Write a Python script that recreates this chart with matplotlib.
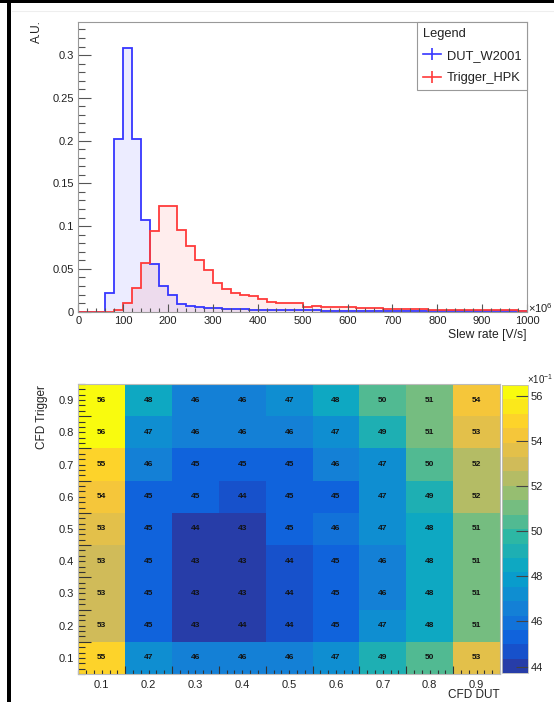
import numpy as np
import matplotlib
matplotlib.use('Agg')
import matplotlib.pyplot as plt
from matplotlib.colors import LinearSegmentedColormap, ListedColormap, BoundaryNorm
from matplotlib.lines import Line2D
from matplotlib.patches import Rectangle
from matplotlib.ticker import MultipleLocator, FixedLocator, FuncFormatter, NullFormatter

plt.rcParams['font.family'] = ['Liberation Sans', 'DejaVu Sans']
plt.rcParams['mathtext.fontset'] = 'custom'
plt.rcParams['mathtext.rm'] = 'Liberation Sans'
plt.rcParams['mathtext.it'] = 'Liberation Sans:italic'

# ---------------- data ----------------
bin_width = 20
x_max = 1000
dut_w2001 = [0, 0, 0, 0.022, 0.202, 0.308, 0.202, 0.107, 0.056, 0.030,
             0.020, 0.009, 0.007, 0.005, 0.0045, 0.004, 0.0035, 0.003, 0.003, 0.0025,
             0.002, 0.002, 0.002, 0.002, 0.0015, 0.0015, 0.0015, 0.001, 0.001, 0.001,
             0.001, 0.001, 0.001, 0.001, 0.0008, 0.0008, 0.0008, 0.0008, 0.0007, 0.0007,
             0.0007, 0.0006, 0.0006, 0.0006, 0.0006, 0.0005, 0.0005, 0.0005, 0.0005, 0.0005]
trigger_hpk = [0, 0, 0, 0, 0.002, 0.010, 0.028, 0.057, 0.094, 0.123,
               0.124, 0.096, 0.077, 0.060, 0.049, 0.033, 0.027, 0.022, 0.020, 0.018,
               0.015, 0.011, 0.010, 0.010, 0.010, 0.006, 0.007, 0.006, 0.005, 0.005,
               0.005, 0.004, 0.004, 0.004, 0.003, 0.003, 0.003, 0.003, 0.003, 0.002,
               0.002, 0.002, 0.002, 0.002, 0.002, 0.0015, 0.0015, 0.0015, 0.0015, 0.0012]
series_labels = ['DUT_W2001', 'Trigger_HPK']

cfd_dut = [0.1, 0.2, 0.3, 0.4, 0.5, 0.6, 0.7, 0.8, 0.9]
cfd_trigger = [0.1, 0.2, 0.3, 0.4, 0.5, 0.6, 0.7, 0.8, 0.9]
# rows: CFD Trigger 0.1 ... 0.9 ; columns: CFD DUT 0.1 ... 0.9
resolution = [
    [55.0, 47.4, 46.3, 46.3, 46.3, 47.2, 49.2, 50.3, 53.4],   # 0.1
    [53.1, 45.0, 43.4, 44.0, 44.4, 45.0, 47.0, 48.2, 51.3],   # 0.2
    [53.1, 45.0, 43.4, 43.3, 44.4, 45.0, 46.4, 48.2, 51.0],   # 0.3
    [53.1, 45.0, 43.4, 43.3, 44.4, 45.0, 46.4, 48.2, 51.0],   # 0.4
    [53.4, 45.3, 44.0, 43.4, 45.0, 46.0, 47.0, 48.3, 51.3],   # 0.5
    [54.2, 45.3, 45.0, 44.4, 45.1, 45.3, 47.2, 49.2, 52.2],   # 0.6
    [55.1, 46.4, 45.3, 45.3, 45.4, 46.3, 47.4, 50.3, 52.4],   # 0.7
    [56.2, 47.4, 46.3, 46.3, 46.4, 47.4, 49.2, 51.1, 53.4],   # 0.8
    [56.3, 48.3, 46.4, 46.4, 47.4, 48.2, 50.2, 51.2, 54.2],   # 0.9
]
z_min, z_max, n_levels = 43.7, 56.5, 20
cbar_ticks = [44, 46, 48, 50, 52, 54, 56]

# ---------------- figure ----------------
W, H = 554, 702
fig = plt.figure(figsize=(W / 100, H / 100), dpi=100)
fig.patch.set_facecolor('white')

def fx(px):
    return px / W

def fy(py):
    return 1 - py / H

def pt(px):
    return px * 0.72

txt = '#222222'

# frame decorations (screenshot border)
fig.add_artist(Rectangle((fx(7), 0), fx(4.5), 1, transform=fig.transFigure,
                         color='black', lw=0, zorder=10))
fig.add_artist(Rectangle((0, fy(2.5)), 1, 2.5 / H, transform=fig.transFigure,
                         color='black', lw=0, zorder=10))
fig.add_artist(Line2D([fx(12), 1], [fy(11), fy(11)], transform=fig.transFigure,
                      color='#eeeeee', lw=0.8))

# ---------------- histogram ----------------
ax1 = fig.add_axes([fx(78.3), fy(311.7), fx(527 - 78.3), (311.7 - 21.7) / H])
edges = np.arange(0, x_max + bin_width, bin_width)
blue, red = '#3636ff', '#ff3a3a'
ax1.stairs(dut_w2001, edges, fill=True, color=blue, alpha=0.09, lw=0)
ax1.stairs(trigger_hpk, edges, fill=True, color=red, alpha=0.09, lw=0)
ax1.stairs(dut_w2001, edges, color=blue, lw=1.3, baseline=0)
ax1.stairs(trigger_hpk, edges, color=red, lw=1.3, baseline=0)
ax1.set_xlim(0, x_max)
ax1.set_ylim(0, 0.339)
ax1.xaxis.set_major_locator(MultipleLocator(100))
ax1.xaxis.set_minor_locator(MultipleLocator(20))
ax1.yaxis.set_major_locator(MultipleLocator(0.05))
ax1.yaxis.set_minor_locator(MultipleLocator(0.01))
ax1.yaxis.set_major_formatter(FuncFormatter(lambda v, p: f'{v:g}'))
ax1.tick_params(axis='x', which='major', direction='in', length=pt(8), width=0.8,
                color='#555555', labelsize=8, labelcolor=txt, pad=3)
ax1.tick_params(axis='x', which='minor', direction='in', length=pt(4), width=0.8, color='#555555')
ax1.tick_params(axis='y', which='major', direction='in', length=pt(13), width=0.8,
                color='#555555', labelsize=8, labelcolor=txt, pad=3)
ax1.tick_params(axis='y', which='minor', direction='in', length=pt(6.5), width=0.8, color='#555555')
for s in ax1.spines.values():
    s.set_color('#999999')
    s.set_linewidth(0.8)

handles = [Line2D([], [], color=blue, lw=1.2, marker='|', markersize=8, markeredgewidth=1.2),
           Line2D([], [], color=red, lw=1.2, marker='|', markersize=8, markeredgewidth=1.2)]
leg = ax1.legend(handles, series_labels, title='Legend', loc='upper right',
                 bbox_to_anchor=(1, 1), borderaxespad=0, fancybox=False,
                 edgecolor='#999999', framealpha=1, fontsize=9.3, title_fontsize=9.3,
                 alignment='left', handlelength=1.45, handletextpad=0.4,
                 borderpad=0.45, labelspacing=0.8)
leg.get_frame().set_linewidth(0.8)
for t in leg.get_texts():
    t.set_color(txt)
leg.get_title().set_color(txt)

fig.text(fx(528), fy(308), r'$\times$10$^{6}$', ha='left', va='center', fontsize=8, color=txt)
fig.text(fx(527), fy(335), 'Slew rate [V/s]', ha='right', va='center', fontsize=8.7, color=txt)
fig.text(fx(37), fy(20), 'A.U.', rotation=90, ha='center', va='top', fontsize=8.6, color=txt)

# ---------------- heat map ----------------
bird_stops = [0.0, 0.125, 0.25, 0.375, 0.5, 0.625, 0.75, 0.875, 1.0]
bird_r = [0.2082, 0.0592, 0.0780, 0.0232, 0.1802, 0.5301, 0.8186, 0.9956, 0.9764]
bird_g = [0.1664, 0.3599, 0.5041, 0.6419, 0.7178, 0.7492, 0.7328, 0.7862, 0.9832]
bird_b = [0.5293, 0.8684, 0.8385, 0.7914, 0.6425, 0.4662, 0.3499, 0.1968, 0.0539]
bird = LinearSegmentedColormap.from_list(
    'bird', [(s, (r, g, b)) for s, r, g, b in zip(bird_stops, bird_r, bird_g, bird_b)])
band_pos = np.minimum((np.arange(n_levels) + 0.99) / n_levels, 1.0)
cmap = ListedColormap(bird(band_pos))
levels = np.linspace(z_min, z_max, n_levels + 1)
norm = BoundaryNorm(levels, cmap.N, clip=True)

ax2 = fig.add_axes([fx(78.3), fy(674), fx(500 - 78.3), (674 - 384) / H])
xc = np.array(cfd_dut)
yc = np.array(cfd_trigger)
dx = (xc[1] - xc[0]) / 2
dy = (yc[1] - yc[0]) / 2
xe = np.append(xc - dx, xc[-1] + dx)
ye = np.append(yc - dy, yc[-1] + dy)
Z = np.array(resolution)
mesh = ax2.pcolormesh(xe, ye, Z, cmap=cmap, norm=norm, shading='flat')
for i, yv in enumerate(yc):
    for j, xv in enumerate(xc):
        ax2.text(xv, yv, f'{Z[i, j]:.0f}', ha='center', va='center',
                 fontsize=6, fontweight='bold', color='#111111')
ax2.set_xlim(xe[0], xe[-1])
ax2.set_ylim(ye[0], ye[-1])

def center_label(v, p, centers):
    for c in centers:
        if abs(v - c) < 1e-6:
            return f'{c:.1f}'
    return ''

for axis, centers, e in ((ax2.xaxis, xc, xe), (ax2.yaxis, yc, ye)):
    axis.set_major_locator(FixedLocator(e[1:-1]))
    axis.set_major_formatter(NullFormatter())
    fine = np.linspace(e[0], e[-1], (len(e) - 1) * 6 + 1)
    axis.set_minor_locator(FixedLocator(fine))
    axis.set_minor_formatter(FuncFormatter(lambda v, p, c=centers: center_label(v, p, c)))

ax2.tick_params(axis='x', which='major', direction='in', length=pt(8), width=0.8, color='#333333')
ax2.tick_params(axis='x', which='minor', direction='in', length=pt(4), width=0.8, color='#333333',
                labelsize=8, labelcolor=txt, pad=4)
ax2.tick_params(axis='y', which='major', direction='in', length=pt(13), width=0.8, color='#333333')
ax2.tick_params(axis='y', which='minor', direction='in', length=pt(6.5), width=0.8, color='#333333',
                labelsize=8, labelcolor=txt, pad=3)
for s in ax2.spines.values():
    s.set_color('#bbbbbb')
    s.set_linewidth(0.8)

cax = fig.add_axes([fx(502), fy(673.3), fx(528 - 502), (673.3 - 385) / H])
cb = fig.colorbar(mesh, cax=cax, ticks=cbar_ticks)
cb.outline.set_edgecolor('#bbbbbb')
cb.outline.set_linewidth(0.6)
cax.tick_params(direction='in', length=pt(12), width=0.8, color='#444444',
                labelsize=8, labelcolor=txt, pad=2)
cax.minorticks_off()

fig.text(fx(527), fy(379), r'$\times$10$^{-1}$', ha='left', va='center', fontsize=7, color=txt)
fig.text(fx(500), fy(695), 'CFD DUT', ha='right', va='center', fontsize=8.5, color=txt)
fig.text(fx(42), fy(385), 'CFD Trigger', rotation=90, ha='center', va='top', fontsize=8.5, color=txt)

fig.savefig('out.png', dpi=100, facecolor='white')
